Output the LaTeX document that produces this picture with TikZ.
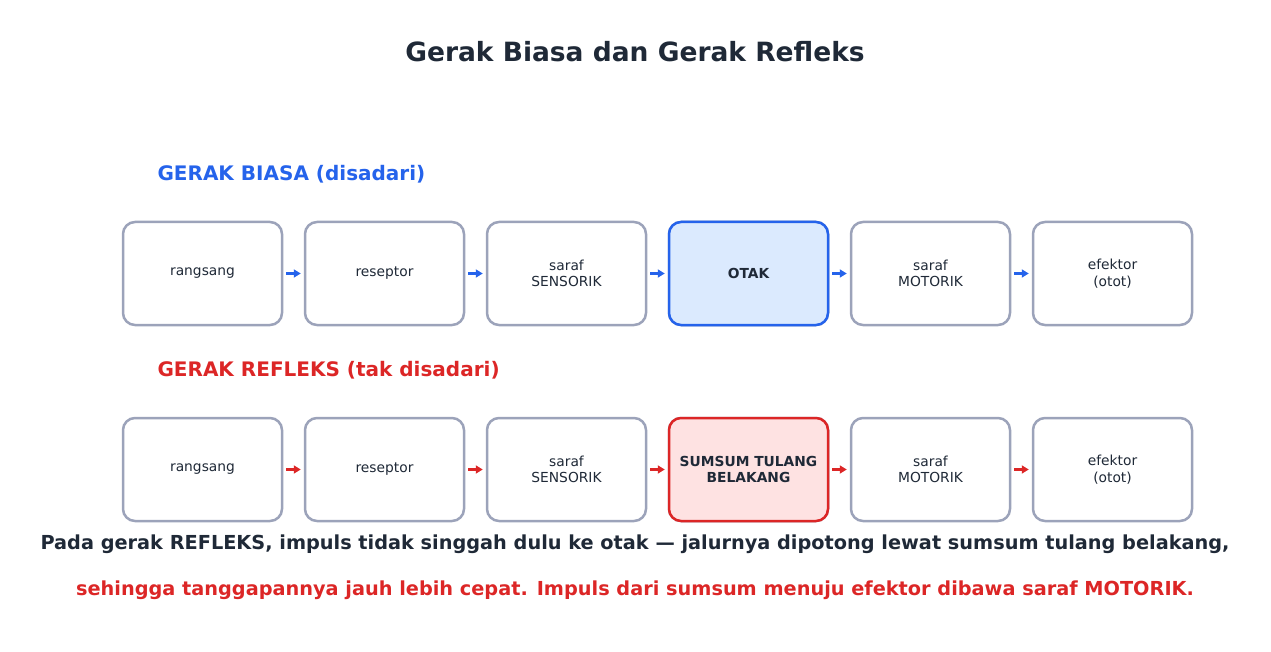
\documentclass[tikz,border=0pt]{standalone}
\usepackage{fontspec}
\setmainfont{DejaVu Sans}
\usetikzlibrary{arrows.meta}
\definecolor{ink}{HTML}{1F2937}
\definecolor{bord}{HTML}{9CA3BA}
\definecolor{blu}{HTML}{2563EB}
\definecolor{bluf}{HTML}{DBEAFE}
\definecolor{rd}{HTML}{DC2626}
\definecolor{rdf}{HTML}{FEE2E2}
\begin{document}
\begin{tikzpicture}[x=1pt,y=-1pt,
 box/.style={draw=bord,line width=2.5pt,rounded corners=12pt,minimum width=159pt,minimum height=103pt,fill=white,align=center,font=\fontsize{13.8}{16.5}\selectfont,text=ink},
 arb/.style={-{Triangle[length=7pt,width=8pt]},line width=2.5pt,blu,shorten <=3pt,shorten >=3pt},
 arr/.style={-{Triangle[length=7pt,width=8pt]},line width=2.5pt,rd,shorten <=3pt,shorten >=3pt}]
\useasboundingbox (0,0) rectangle (1271,652);
\node[font=\bfseries\fontsize{26.5}{30}\selectfont,text=ink] (t) at (635,52) {Gerak Biasa dan Gerak Refleks};
\node[font=\bfseries\fontsize{20}{24}\selectfont,text=blu,anchor=west] (l1) at (154,174) {GERAK BIASA (disadari)};
\node[font=\bfseries\fontsize{20}{24}\selectfont,text=rd,anchor=west] (l2) at (154,370) {GERAK REFLEKS (tak disadari)};
\foreach \i/\t in {1/rangsang,2/reseptor,3/{saraf\\SENSORIK},4/{},5/{saraf\\MOTORIK},6/{efektor\\(otot)}}{
 \node[box] (a\i) at (202.5+182*\i-182,273.5) {\t};
 \node[box] (b\i) at (202.5+182*\i-182,469.5) {\t};
}
\node[box,draw=blu,fill=bluf,font=\bfseries\fontsize{13.8}{16.5}\selectfont] at (a4) {OTAK};
\node[box,draw=rd,fill=rdf,font=\bfseries\fontsize{13.8}{16.5}\selectfont] at (b4) {SUMSUM TULANG\\BELAKANG};
\foreach \i [evaluate=\i as \j using int(\i+1)] in {1,...,5}{
 \draw[arb] (a\i.east) -- (a\j.west);
 \draw[arr] (b\i.east) -- (b\j.west);
}
\node[font=\bfseries\fontsize{19.3}{23}\selectfont,text=ink] (n1) at (635,544) {Pada gerak REFLEKS, impuls tidak singgah dulu ke otak — jalurnya dipotong lewat sumsum tulang belakang,};
\node[font=\bfseries\fontsize{19.3}{23}\selectfont,text=rd] (n2) at (635,590) {sehingga tanggapannya jauh lebih cepat. Impuls dari sumsum menuju efektor dibawa saraf MOTORIK.};
\end{tikzpicture}
\end{document}
